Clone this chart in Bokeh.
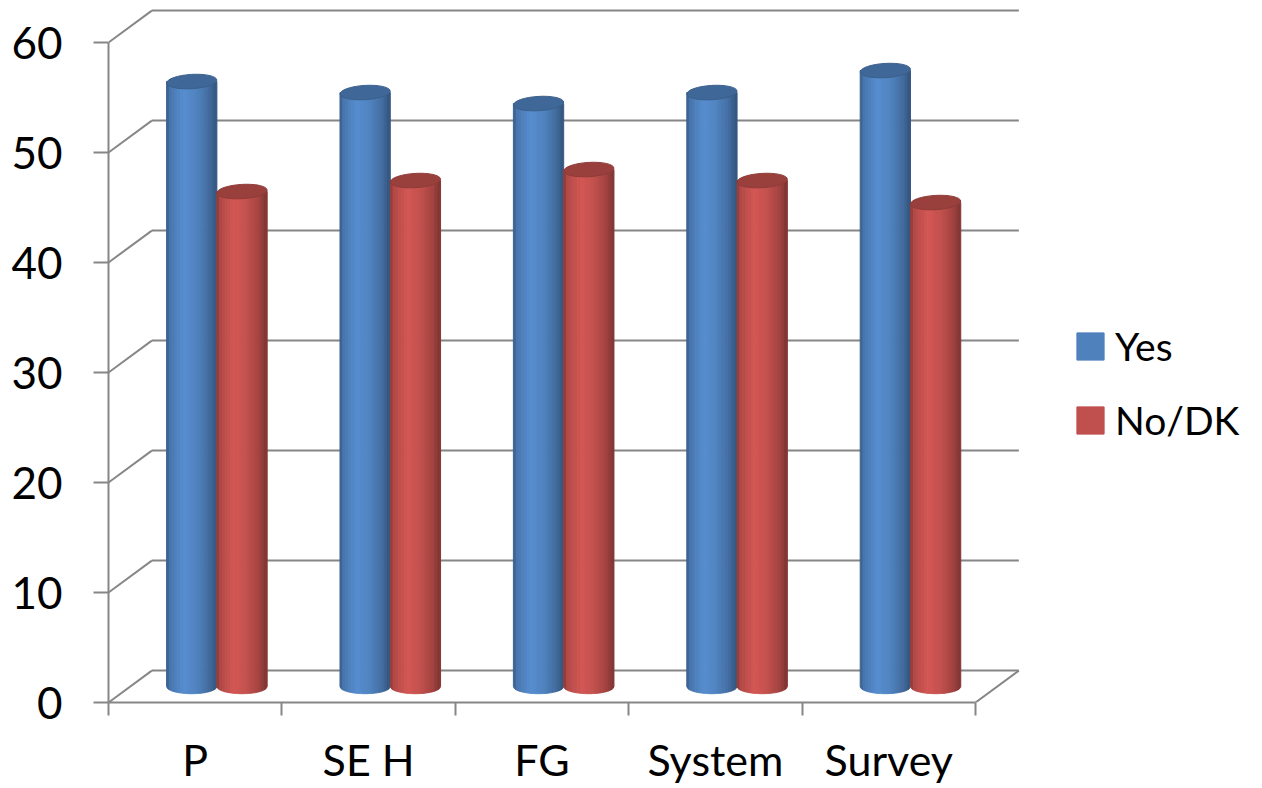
import numpy as np
from bokeh.plotting import figure
from bokeh.models import Range1d, LinearAxis, FixedTicker, Legend, LegendItem, ColumnDataSource
from bokeh.embed import file_html
from bokeh.resources import INLINE

# ---- data -------------------------------------------------------------
categories = ["P", "SE H", "FG", "System", "Survey"]
yes = [55, 54, 53, 54, 56]
no_dk = [45, 46, 47, 46, 44]
y_ticks = [0, 10, 20, 30, 40, 50, 60]

series_names = ["Yes", "No/DK"]
series_values = [yes, no_dk]
series_colors = ["#4f81bd", "#c0504d"]

# ---- style / geometry -------------------------------------------------
FONT = "Lato"
GRID = "#868686"
W, H = 1262, 788
FRAME_LEFT, FRAME_BOTTOM = 108, 702
PX_PER_X = 173.4          # pixels per category slot
PX_PER_Y = 11.0           # pixels per value unit
DX, DY = 0.25, 2.9        # oblique offset of the back wall (data units)
BAR_W = 0.29              # cylinder diameter (x units)
CAP_H = 1.3               # apparent height of cylinder ellipses (y units)
N_STRIPS = 18

n = len(categories)

p = figure(width=W, height=H,
           x_range=Range1d(0, (W - FRAME_LEFT) / PX_PER_X),
           y_range=Range1d(0, FRAME_BOTTOM / PX_PER_Y),
           x_axis_type=None, y_axis_type=None,
           output_backend="svg", toolbar_location=None,
           min_border_left=FRAME_LEFT, min_border_right=0,
           min_border_top=0, min_border_bottom=H - FRAME_BOTTOM)
p.outline_line_color = None
p.background_fill_color = "white"
p.border_fill_color = "white"

# ---- walls: back gridlines, depth diagonals, floor edge -----------------
p.segment(x0=[DX] * len(y_ticks), y0=[t + DY for t in y_ticks],
          x1=[n + DX] * len(y_ticks), y1=[t + DY for t in y_ticks],
          line_color=GRID, line_width=2)
p.segment(x0=[0] * len(y_ticks), y0=y_ticks,
          x1=[DX] * len(y_ticks), y1=[t + DY for t in y_ticks],
          line_color=GRID, line_width=2)
p.segment(x0=[n], y0=[0], x1=[n + DX], y1=[DY], line_color=GRID, line_width=2)

# ---- axes -------------------------------------------------------------
yax = LinearAxis(ticker=FixedTicker(ticks=y_ticks), bounds=(0, 60))
yax.axis_line_color = GRID
yax.axis_line_width = 2
yax.major_tick_line_color = GRID
yax.major_tick_line_width = 2
yax.major_tick_out = 15
yax.major_tick_in = 0
yax.minor_tick_out = 0
yax.minor_tick_in = 0
yax.major_label_standoff = 31
yax.major_label_text_font = FONT
yax.major_label_text_font_size = "44px"
yax.major_label_text_color = "black"
p.add_layout(yax, "left")

xax = LinearAxis(ticker=FixedTicker(ticks=[i + 0.5 for i in range(n)],
                                    minor_ticks=list(range(n + 1))),
                 bounds=(0, n))
xax.major_label_overrides = {i + 0.5: c for i, c in enumerate(categories)}
xax.axis_line_color = GRID
xax.axis_line_width = 2
xax.major_tick_out = 0
xax.major_tick_in = 0
xax.minor_tick_line_color = GRID
xax.minor_tick_line_width = 2
xax.minor_tick_out = 13
xax.minor_tick_in = 0
xax.major_label_standoff = 18
xax.major_label_text_font = FONT
xax.major_label_text_font_size = "43px"
xax.major_label_text_color = "black"
p.add_layout(xax, "below")


# ---- shaded cylinders -------------------------------------------------
def shade(hex_color, f):
    r, g, b = (int(hex_color[i:i + 2], 16) for i in (1, 3, 5))
    return "#%02x%02x%02x" % tuple(int(max(0, min(255, c * f))) for c in (r, g, b))


prof_t = [0.0, 0.08, 0.35, 0.6, 0.85, 1.0]
prof_f = [0.70, 0.92, 1.10, 1.02, 0.85, 0.66]
strip_f = [np.interp((k + 0.5) / N_STRIPS, prof_t, prof_f) for k in range(N_STRIPS)]
# strip whose tone is closest to the flat series colour (used for the legend swatch)
flat_k = int(np.argmin([abs(f - 1.0) for f in strip_f]))

items = []
for s, (name, vals, col) in enumerate(zip(series_names, series_values, series_colors)):
    xs, ys, colors = [], [], []
    cap_x, cap_y = [], []
    for i, v in enumerate(vals):
        cx = i + 0.5 + DX / 2 + (-1 if s == 0 else 1) * BAR_W / 2
        base = DY / 2
        top = base + v
        edges = np.linspace(cx - BAR_W / 2, cx + BAR_W / 2, N_STRIPS + 1)
        for k in range(N_STRIPS):
            arc_x = np.linspace(edges[k], edges[k + 1], 4)
            rel = np.clip((arc_x - cx) / (BAR_W / 2), -1, 1)
            arc_y = base - CAP_H / 2 * np.sqrt(1 - rel ** 2)
            xs.append(list(arc_x) + [edges[k + 1], edges[k]])
            ys.append(list(arc_y) + [top, top])
            colors.append(shade(col, 1.0 if k == flat_k else strip_f[k]))
        cap_x.append(cx)
        cap_y.append(top)
    src = ColumnDataSource(dict(xs=xs, ys=ys, color=colors))
    body = p.patches("xs", "ys", source=src, fill_color="color", line_color="color", line_width=1)
    p.ellipse(x=cap_x, y=cap_y, width=BAR_W, height=CAP_H, angle=0.06,
              fill_color=shade(col, 0.80), line_color=shade(col, 0.74), line_width=1)
    items.append(LegendItem(label=name, renderers=[body], index=flat_k))

# ---- legend -----------------------------------------------------------
legend = Legend(items=items, location=(965, 259), orientation="vertical",
                border_line_color=None, background_fill_alpha=0,
                padding=0, margin=0, glyph_width=34, glyph_height=34,
                label_standoff=8, spacing=28,
                label_text_font=FONT, label_text_font_size="39px",
                label_text_color="black")
p.add_layout(legend)

open("out.html", "w").write(file_html(p, INLINE))
